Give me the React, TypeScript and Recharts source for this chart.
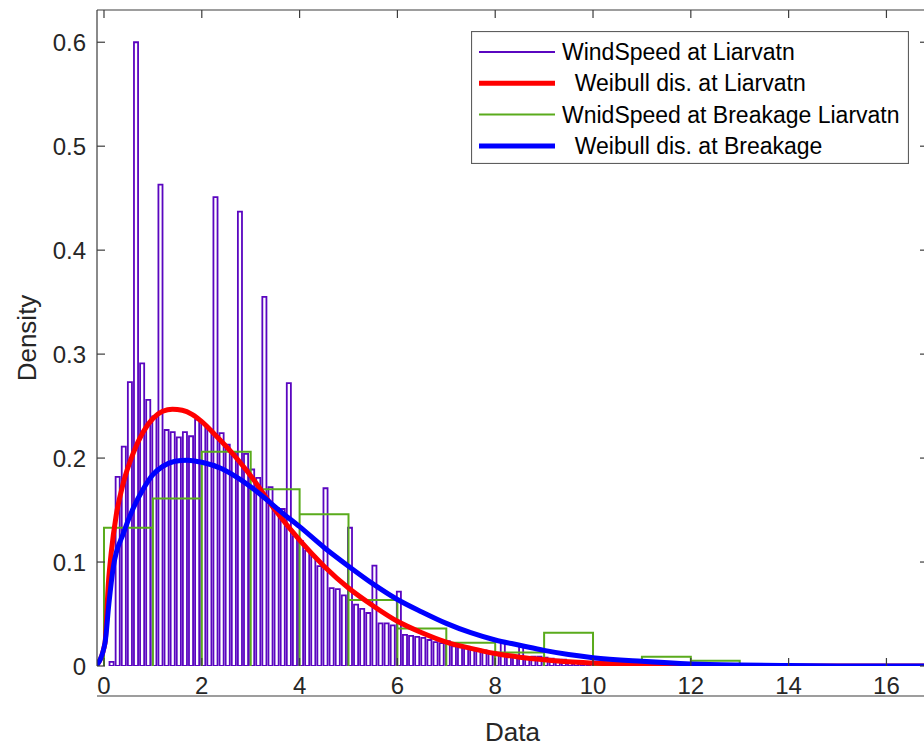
import { ComposedChart, Bar, Line, XAxis, YAxis, Legend, Label } from "recharts";

const FONT = '"Liberation Sans", Arial, Helvetica, sans-serif';
const AXIS = "#3c3c3c";
const TEXT = "#262626";

const PURPLE = "#5a06c0";
const GREEN = "#5aab1c";
const RED = "#ff0000";
const BLUE = "#0000ff";

// plot box edges in px
const PLOT_TOP = 10;
const PLOT_BOTTOM = 666;
const PLOT_LEFT = 97;
const PLOT_RIGHT = 928;

// wind speed histogram at Liarvatn, 0.125 m/s bins
const binStart = 0.03;
const binStep = 0.125;
const windDensity = [
  0, 0.004, 0.182, 0.211, 0.273, 0.6, 0.291, 0.256, 0.24, 0.463,
  0.227, 0.225, 0.22, 0.225, 0.221, 0.237, 0.233, 0.228, 0.451, 0.224,
  0.213, 0.206, 0.437, 0.204, 0.189, 0.181, 0.355, 0.172, 0.152, 0.151,
  0.272, 0.125, 0.12, 0.111, 0.106, 0.096, 0.171, 0.075, 0.074, 0.068,
  0.133, 0.059, 0.055, 0.051, 0.0965, 0.041, 0.041, 0.039, 0.0715, 0.03,
  0.029, 0.028, 0.027, 0.025, 0.023, 0.022, 0.024, 0.019, 0.018, 0.017,
  0.016, 0.016, 0.015, 0.012, 0.012, 0.023, 0.01, 0.01, 0.019, 0.008,
  0.009, 0.009, 0.008, 0.007, 0.006, 0.006, 0.005, 0.005, 0.004, 0.004,
  0.003, 0.003, 0.002, 0.002, 0.002, 0.001, 0.001, 0.001,
];

// wind speed histogram at breakage events, 1 m/s bins
const breakEdges = [0, 1, 2, 3, 4, 5, 6, 7, 8, 9, 10, 11, 12, 13];
const breakDensity = [0.133, 0.161, 0.206, 0.17, 0.146, 0.0635, 0.036, 0.0224, 0.013, 0.032, 0, 0.009, 0.005];

// fitted Weibull pdf, Liarvatn
const liarFitX = [-0.16, 0.02, 0.09, 0.15, 0.25, 0.4, 0.6, 0.8, 1.0, 1.2, 1.4, 1.6, 1.8, 2.0, 2.3, 2.6, 3.0, 3.5, 4.0, 4.5, 5.0, 5.5, 6.0, 6.5, 7.0, 7.5, 8.0, 8.5, 9.0, 9.5, 10, 11, 12, 13, 14, 15, 16.85];
const liarFitY = [0, 0.022, 0.08, 0.11, 0.145, 0.177, 0.205, 0.225, 0.238, 0.245, 0.247, 0.246, 0.242, 0.235, 0.221, 0.206, 0.183, 0.15, 0.121, 0.096, 0.075, 0.058, 0.043, 0.032, 0.023, 0.017, 0.012, 0.0085, 0.006, 0.004, 0.0028, 0.0013, 0.0006, 0.0003, 0.0001, 0.00005, 0];

// fitted Weibull pdf, breakage
const breakFitX = [-0.16, 0.02, 0.1, 0.19, 0.4, 0.6, 0.8, 1.0, 1.2, 1.45, 1.7, 2.0, 2.4, 2.8, 3.2, 3.6, 4.0, 4.5, 5.0, 5.5, 6.0, 6.5, 7.0, 7.5, 8.0, 8.5, 9.0, 9.5, 10, 11, 12, 13, 14, 15, 16.85];
const breakFitY = [0, 0.022, 0.06, 0.095, 0.128, 0.152, 0.17, 0.184, 0.192, 0.197, 0.198, 0.196, 0.19, 0.179, 0.165, 0.149, 0.134, 0.114, 0.096, 0.079, 0.064, 0.052, 0.041, 0.032, 0.025, 0.02, 0.015, 0.011, 0.008, 0.0045, 0.002, 0.0009, 0.0004, 0.0001, 0];

const xTicks = [0, 2, 4, 6, 8, 10, 12, 14, 16];
const yTicks = [0, 0.1, 0.2, 0.3, 0.4, 0.5, 0.6];
const xDomain = [-0.143, 16.85];
const yDomain = [0, 0.631];

const legendItems = [
  { label: "WindSpeed at Liarvatn", color: PURPLE, width: 2 },
  { label: "  Weibull dis. at Liarvatn", color: RED, width: 5 },
  { label: "WnidSpeed at Breakage Liarvatn", color: GREEN, width: 2 },
  { label: "  Weibull dis. at Breakage", color: BLUE, width: 5 },
];

const windRows = windDensity.map((d, i) => ({ x: +(binStart + i * binStep).toFixed(4), density: d }));

// outline of each breakage bin, drawn down to the baseline on both sides
const breakRows = breakDensity.flatMap((d, i) => [
  { x: breakEdges[i], y: 0 },
  { x: breakEdges[i], y: d },
  { x: breakEdges[i + 1], y: d },
  { x: breakEdges[i + 1], y: 0 },
]);

const liarRows = liarFitX.map((x, i) => ({ x, y: liarFitY[i] }));
const breakFitRows = breakFitX.map((x, i) => ({ x, y: breakFitY[i] }));

const TICK_LEN = 8;

// ticks point into the box on both opposite sides, labels sit outside it
function XTick({ x, payload }: any) {
  return (
    <g>
      <line x1={x} x2={x} y1={PLOT_BOTTOM} y2={PLOT_BOTTOM - TICK_LEN} stroke={AXIS} strokeWidth={1.2} />
      <line x1={x} x2={x} y1={PLOT_TOP} y2={PLOT_TOP + TICK_LEN} stroke={AXIS} strokeWidth={1.2} />
      <text x={x} y={PLOT_BOTTOM + 28} textAnchor="middle" fontFamily={FONT} fontSize={24} fill={TEXT}>
        {payload.value}
      </text>
    </g>
  );
}

function YTick({ y, payload }: any) {
  return (
    <g>
      <line x1={PLOT_LEFT} x2={PLOT_LEFT + TICK_LEN} y1={y} y2={y} stroke={AXIS} strokeWidth={1.2} />
      <line x1={PLOT_RIGHT} x2={PLOT_RIGHT - TICK_LEN} y1={y} y2={y} stroke={AXIS} strokeWidth={1.2} />
      <text x={PLOT_LEFT - 11} y={y + 8.5} textAnchor="end" fontFamily={FONT} fontSize={24} fill={TEXT}>
        {payload.value}
      </text>
    </g>
  );
}

function LegendBox() {
  return (
    <svg width={438} height={133} style={{ display: "block" }}>
      <rect x={0.5} y={0.5} width={437} height={132} fill="#fff" stroke="#5e5e5e" strokeWidth={1.2} />
      {legendItems.map((item, i) => {
        const cy = 21 + i * 31.3;
        return (
          <g key={item.label}>
            <line x1={8} x2={84} y1={cy} y2={cy} stroke={item.color} strokeWidth={item.width} />
            <text x={91} y={cy + 8} fontFamily={FONT} fontSize={23} fill="#000" style={{ whiteSpace: "pre" }}>
              {item.label}
            </text>
          </g>
        );
      })}
    </svg>
  );
}

export default function App() {
  return (
    <div style={{ position: "absolute", left: 0, top: 0, width: 924, height: 746, overflow: "hidden", background: "#fff" }}>
      <ComposedChart
        width={932}
        height={746}
        data={windRows}
        margin={{ top: PLOT_TOP - 1, right: 932 - PLOT_RIGHT - 1, bottom: 746 - PLOT_BOTTOM - 1, left: PLOT_LEFT - 1 }}
      >
        <XAxis
          xAxisId="main"
          dataKey="x"
          type="number"
          domain={xDomain}
          allowDataOverflow
          ticks={xTicks}
          interval={0}
          height={1}
          tickSize={0}
          tickMargin={0}
          tickLine={false}
          tick={<XTick />}
          axisLine={{ stroke: AXIS, strokeWidth: 1.2 }}
        >
          <Label
            content={({ viewBox }: any) => (
              <text x={viewBox.x + viewBox.width / 2} y={PLOT_BOTTOM + 75} textAnchor="middle" fontFamily={FONT} fontSize={26} fill={TEXT}>
                Data
              </text>
            )}
          />
        </XAxis>
        <XAxis xAxisId="fit" dataKey="x" type="number" domain={xDomain} allowDataOverflow hide />
        {/* top and right edges of the box */}
        <XAxis
          xAxisId="top"
          orientation="top"
          dataKey="x"
          type="number"
          domain={xDomain}
          allowDataOverflow
          height={1}
          tick={false}
          tickLine={false}
          axisLine={{ stroke: AXIS, strokeWidth: 1.2 }}
        />
        <YAxis
          type="number"
          domain={yDomain}
          allowDataOverflow
          ticks={yTicks}
          interval={0}
          width={1}
          tickSize={0}
          tickMargin={0}
          tickLine={false}
          tick={<YTick />}
          axisLine={{ stroke: AXIS, strokeWidth: 1.2 }}
        >
          <Label
            content={() => {
              const cx = PLOT_LEFT - 70;
              const cy = (PLOT_TOP + PLOT_BOTTOM) / 2;
              return (
                <text x={cx} y={cy} transform={`rotate(-90 ${cx} ${cy})`} textAnchor="middle" dominantBaseline="central" fontFamily={FONT} fontSize={26} fill={TEXT}>
                  Density
                </text>
              );
            }}
          />
        </YAxis>
        <YAxis
          yAxisId="right"
          orientation="right"
          type="number"
          domain={yDomain}
          allowDataOverflow
          width={1}
          tick={false}
          tickLine={false}
          axisLine={{ stroke: AXIS, strokeWidth: 1.2 }}
        />
        <Bar
          xAxisId="main"
          dataKey="density"
          name="WindSpeed at Liarvatn"
          fill="none"
          stroke={PURPLE}
          strokeWidth={1.8}
          barSize={4.1}
          isAnimationActive={false}
        />
        <Line
          xAxisId="fit"
          data={breakRows}
          dataKey="y"
          name="WnidSpeed at Breakage Liarvatn"
          type="linear"
          stroke={GREEN}
          strokeWidth={2}
          dot={false}
          activeDot={false}
          isAnimationActive={false}
        />
        <Line
          xAxisId="fit"
          data={liarRows}
          dataKey="y"
          name="Weibull dis. at Liarvatn"
          type="monotone"
          stroke={RED}
          strokeWidth={5}
          dot={false}
          activeDot={false}
          isAnimationActive={false}
        />
        <Line
          xAxisId="fit"
          data={breakFitRows}
          dataKey="y"
          name="Weibull dis. at Breakage"
          type="monotone"
          stroke={BLUE}
          strokeWidth={5}
          dot={false}
          activeDot={false}
          isAnimationActive={false}
        />
        <Legend
          layout="vertical"
          align="center"
          verticalAlign="middle"
          wrapperStyle={{ left: 471, top: 31, width: 438, height: 133 }}
          content={() => <LegendBox />}
        />
      </ComposedChart>
    </div>
  );
}
